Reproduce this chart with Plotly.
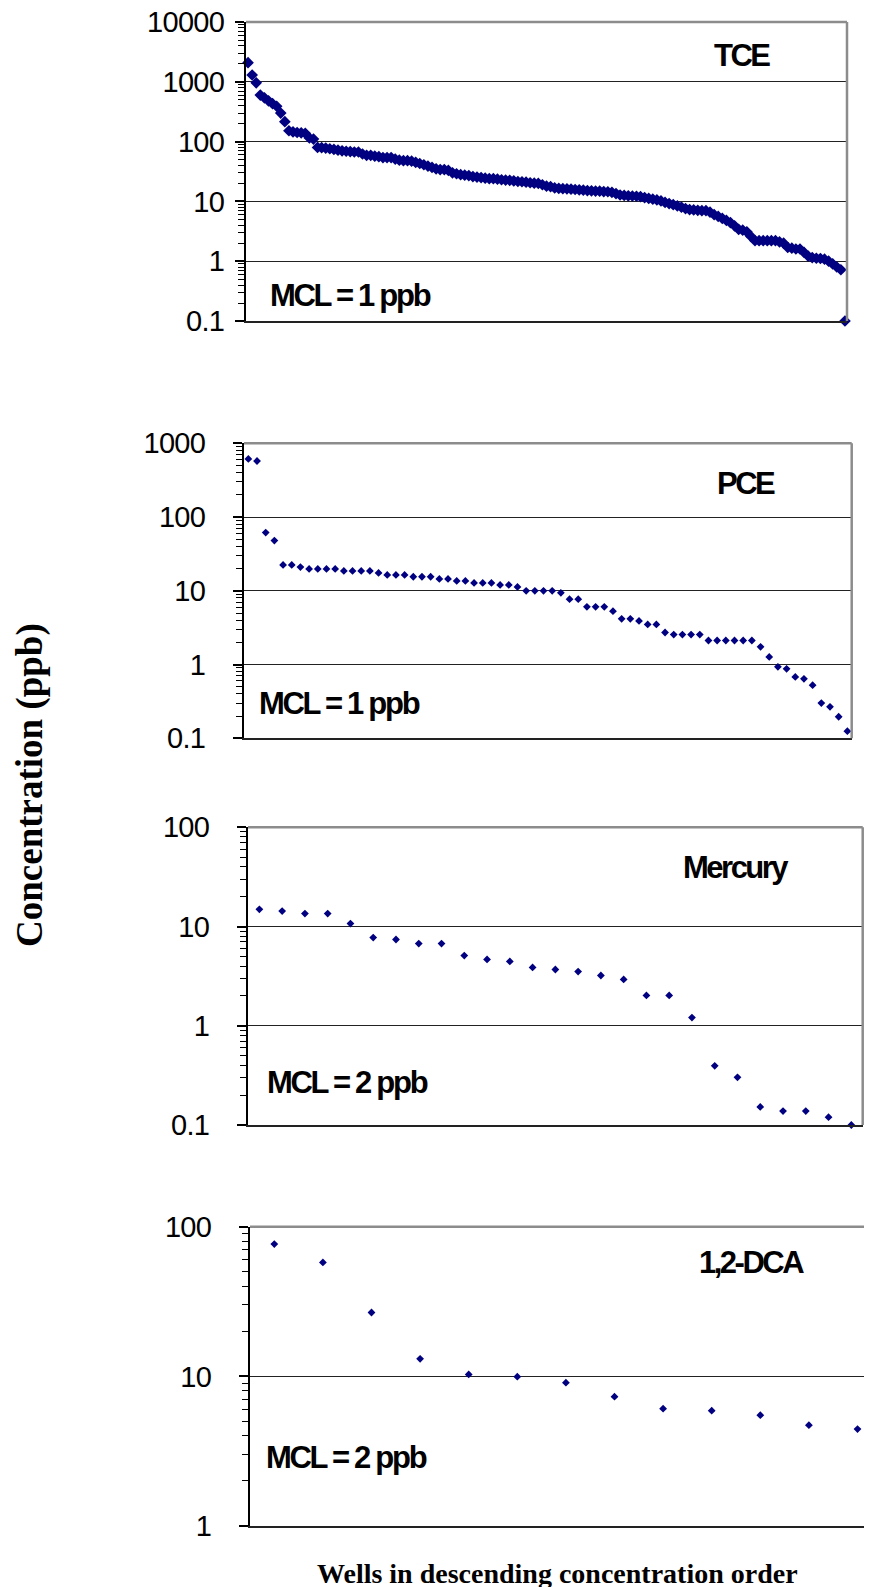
import math
import plotly.graph_objects as go

# ---------------- data ----------------
tce = [2090, 1300, 960, 600, 540, 480, 430, 390, 300, 215,
       152, 145, 142, 140, 138, 115, 110, 80, 79, 78,
       76, 74, 72, 70, 69, 68, 67, 67, 62, 59,
       59, 57, 56, 54, 54, 54, 51, 49, 48, 48,
       47, 45, 43, 41, 39, 37, 35, 34,
       34, 33, 30, 29, 28, 27.5, 27, 26, 25.5, 25,
       24.5, 24, 24, 23.5, 23, 22.7, 22.5, 22, 21.5, 21.3,
       21, 20.5, 20.2, 20, 19, 18, 17.6, 16.8, 16.5, 16.3,
       16.2, 16, 15.8, 15.6, 15.4, 15.2, 15, 14.9, 14.8, 14.6,
       14.5, 14.2, 13.5, 12.8, 12.6, 12.4, 12.3, 12.2, 12, 11.6,
       11.2, 10.9, 10.6, 10.2, 9.6, 9.2, 8.8, 8.4, 8.0, 7.6,
       7.3, 7.2, 7.1, 7.0, 7.0, 6.6, 6.0, 5.6, 5.2, 4.8,
       4.4, 3.9, 3.4, 3.3, 3.1, 2.6, 2.2, 2.2, 2.2, 2.2,
       2.2, 2.2, 2.1, 2.0, 1.7, 1.65, 1.6, 1.6, 1.4, 1.22,
       1.15, 1.12, 1.11, 1.08, 1.0, 0.9, 0.8, 0.72, 0.1]

pce = [614, 575, 61.5, 48, 22.4, 22.4, 21, 19.8, 19.8, 19.8,
       19.8, 18.6, 18.6, 18.6, 18.6, 17.5, 16.4, 16.4, 16.4, 15.5,
       15.5, 15.5, 14.5, 14.5, 13.6, 13.6, 12.8, 12.8, 12.8, 12.0,
       12.0, 11.3, 10.0, 10.0, 10.0, 10.0, 9.4, 7.7, 7.7, 6.06,
       6.06, 6.06, 5.3, 4.17, 4.17, 3.9, 3.5, 3.5, 2.72, 2.55,
       2.55, 2.55, 2.55, 2.12, 2.12, 2.12, 2.12, 2.12, 2.12, 1.74,
       1.27, 0.93, 0.875, 0.68, 0.64, 0.525, 0.30, 0.267, 0.196, 0.125]

mercury = [14.9, 14.3, 13.5, 13.5, 10.7, 7.74, 7.4, 6.74, 6.74, 5.1,
           4.66, 4.45, 3.87, 3.69, 3.52, 3.21, 2.93, 2.02, 2.02, 1.21,
           0.395, 0.302, 0.152, 0.138, 0.138, 0.12, 0.1]

dca = [76.6, 57.7, 26.7, 13.1, 10.3, 9.95, 9.07, 7.32, 6.08, 5.9, 5.5, 4.72, 4.44]

names = ["TCE", "PCE", "Mercury", "1,2-DCA"]
mcl_labels = ["MCL = 1 ppb", "MCL = 1 ppb", "MCL = 2 ppb", "MCL = 2 ppb"]
tce_ticks = ["10000", "1000", "100", "10", "1", "0.1"]
pce_ticks = ["1000", "100", "10", "1", "0.1"]
mercury_ticks = ["100", "10", "1", "0.1"]
dca_ticks = ["100", "10", "1"]

y_title = "Concentration (ppb)"
x_title = "Wells in descending concentration order"

# ---------------- layout helpers ----------------
W, H = 872, 1587
OFF = 8  # the page body margin pushes the figure 8px right and down


def fx(x):
    return (x - OFF) / W


def fy(y):
    return 1 - (y - OFF) / H


def squeeze(s, ls):
    return '<span style="letter-spacing:%spx">%s</span>' % (ls, s)


NAVY = "#000080"
TICKFONT = dict(family="Liberation Sans, Arial, sans-serif", size=29, color="black")
LABELFONT = dict(family="Liberation Sans, Arial, sans-serif",
                 size=31, color="black", weight="bold")

panels = [
    dict(v=tce, t=tce_ticks, xp=(246, 847), yp=(22, 321), ms=9, so=5,
         title_xy=(742, 56), mcl_xy=(268, 295)),
    dict(v=pce, t=pce_ticks, xp=(244, 851.7), yp=(443.3, 738.3), ms=6, so=22,
         title_xy=(745.5, 483), mcl_xy=(257, 703)),
    dict(v=mercury, t=mercury_ticks, xp=(248, 862.7), yp=(827.3, 1125), ms=6, so=22,
         title_xy=(736, 867.5), mcl_xy=(265, 1082)),
    dict(v=dca, t=dca_ticks, xp=(250, 872), yp=(1226.7, 1526), ms=6, so=22,
         title_xy=(751.5, 1262), mcl_xy=(264, 1457)),
]

fig = go.Figure()
shapes = []
annotations = []
layout = {}

for k, p in enumerate(panels):
    idx = "" if k == 0 else str(k + 1)
    vals = p["v"]
    n = len(vals)
    tickvals = [float(s) for s in p["t"]]
    lhi, llo = math.log10(max(tickvals)), math.log10(min(tickvals))
    minor_vals = [m * 10 ** e for e in range(int(round(llo)), int(round(lhi)))
                  for m in range(2, 10)]

    fig.add_trace(go.Scatter(
        x=list(range(n)), y=vals, mode="markers",
        marker=dict(symbol="diamond", size=p["ms"], color=NAVY,
                    line=dict(width=0)),
        xaxis="x" + idx, yaxis="y" + idx, cliponaxis=False, showlegend=False,
        hoverinfo="y"))

    x0, x1 = p["xp"]
    y0, y1 = p["yp"]
    if k == 3:
        spacing = 48.6
        xr = [-0.5, (x1 - x0) / spacing - 0.5]
    else:
        xr = [-0.5, n - 0.5]

    layout["xaxis" + idx] = dict(
        domain=[fx(x0), min(1.0, fx(x1))], anchor="y" + idx, range=xr, automargin=False,
        showgrid=False, zeroline=False, showticklabels=False, ticks="",
        showline=True, linecolor="#222", linewidth=2, fixedrange=True)
    layout["yaxis" + idx] = dict(
        domain=[fy(y1), fy(y0)], anchor="x" + idx, type="log", automargin=False,
        range=[llo, lhi], tickmode="array", tickvals=tickvals,
        ticktext=[squeeze(t, -0.7) for t in p["t"]],
        ticklabeloverflow="allow",
        ticks="outside", ticklen=9, tickwidth=1.5, tickcolor="black",
        minor=dict(tickmode="array", tickvals=minor_vals, ticks="outside",
                   ticklen=6, tickwidth=1, tickcolor="black", showgrid=False),
        ticklabelstandoff=p["so"],
        showgrid=True, gridcolor="#222", gridwidth=1,
        showline=True, linecolor="black", linewidth=2, zeroline=False,
        tickfont=TICKFONT, fixedrange=True)

    shapes.append(dict(type="line", xref="x%s domain" % idx, yref="y%s domain" % idx,
                       x0=0, x1=1, y0=1, y1=1, line=dict(color="#8c8c8c", width=2.5),
                       layer="above"))
    if k != 3:
        shapes.append(dict(type="line", xref="x%s domain" % idx, yref="y%s domain" % idx,
                           x0=1, x1=1, y0=0, y1=1, line=dict(color="#8c8c8c", width=2.5),
                           layer="above"))

    tx, ty = p["title_xy"]
    annotations.append(dict(text=squeeze(names[k], -2.5), x=fx(tx), y=fy(ty),
                            xref="paper", yref="paper",
                            xanchor="center", yanchor="middle", showarrow=False,
                            font=LABELFONT))
    mx, my = p["mcl_xy"]
    annotations.append(dict(text=squeeze(mcl_labels[k], -2.3), x=fx(mx), y=fy(my),
                            xref="paper", yref="paper",
                            xanchor="left", yanchor="middle", showarrow=False,
                            font=LABELFONT))

annotations.append(dict(text=y_title, x=fx(30), y=fy(785), xref="paper", yref="paper",
                        xanchor="center", yanchor="middle", textangle=-90, showarrow=False,
                        font=dict(family="Liberation Serif, Times New Roman, serif", size=37,
                                  color="black", weight="bold")))
annotations.append(dict(text=x_title, x=fx(557), y=fy(1573), xref="paper", yref="paper",
                        xanchor="center", yanchor="middle", showarrow=False,
                        font=dict(family="Liberation Serif, Times New Roman, serif", size=28,
                                  color="black", weight="bold")))

fig.update_layout(
    width=W, height=H, margin=dict(l=0, r=0, t=0, b=0, autoexpand=False),
    paper_bgcolor="white", plot_bgcolor="white",
    shapes=shapes, annotations=annotations, showlegend=False, **layout)

fig.write_html("out.html", config={"displayModeBar": False})
